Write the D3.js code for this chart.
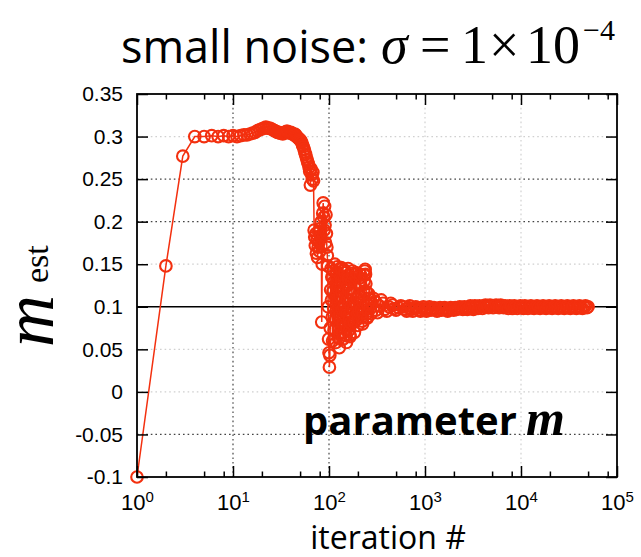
<!DOCTYPE html>
<html>
<head>
<meta charset="utf-8">
<script src="https://cdn.jsdelivr.net/npm/d3@7/dist/d3.min.js"></script>
<style>
  html, body { margin: 0; padding: 0; background: #fff; }
  svg { display: block; }
</style>
</head>
<body>
<svg id="chart" width="641" height="557"></svg>
<script>
// Estimated parameter m versus iteration number (log axis)
const iterations = [
  1,2,3,4,5,6,7,8,9,10,11,12,13,14,15,16,17,18,19,20,
  21,22,23,24,25,26,27,28,29,30,31,32,33,34,35,36,37,38,39,40,
  41,42,43,44,45,46,47,48,49,50,51,52,53,54,55,56,57,58,59,60,
  61,62,63,64,65,66,67,68,69,70,71,72,73,74,75,76,77,78,79,80,
  81,82,83,84,85,86,87,88,89,90,91,92,93,94,95,96,97,98,99,100,
  101,102,103,104,105,106,107,108,109,110,111,112,113,114,115,116,117,118,119,
  120,121,122,123,124,125,126,127,128,129,130,131,132,133,134,135,136,137,138,139,
  140,141,142,143,144,145,146,147,148,149,150,151,152,153,154,155,156,157,158,159,
  160,161,162,163,164,165,166,167,168,169,170,
  172,174,176,178,180,182,184,186,188,190,192,194,196,198,200,202,204,206,208,210,
  212,214,216,218,220,222,224,226,228,230,232,234,236,238,240,242,244,246,248,250,
  252,254,256,258,260,
  265,270,275,280,290,300,310,320,335,350,365,380,
  400,420,440,460,480,500,530,560,
  600,622,645,669,694,720,746,774,802,832,863,895,928,962,998,
  1035,1073,1113,1154,1197,1241,1287,1335,1384,1435,1488,1543,1600,1660,1721,
  1785,1851,1919,1990,2064,2140,2219,2301,2386,2475,2566,2661,2760,2862,2968,
  3078,3191,3309,3432,3559,3690,3827,3968,4115,4268,4425,4589,4759,4935,5118,
  5307,5503,5707,5918,6137,6364,6600,6844,7097,7360,7632,7915,8208,8511,8826,
  9153,9492,9843,10207,10585,10977,11383,11804,12241,12694,13163,13650,14155,14679,15222,
  15786,16370,16975,17603,18255,18930,19631,20357,21110,21891,22701,23541,24412,25316,26252,
  27224,28231,29276,30359,31482,32647,33855,35108,36407,37754,39151,40599,42101,43659,45275,
  46950,48687,50000
];

const mEst = [
  -0.100,0.148,0.277,0.300,0.300,0.301,0.300,0.301,0.300,0.301,0.300,0.301,0.302,0.302,0.303,0.304,0.305,0.307,0.308,0.309,
  0.310,0.311,0.310,0.310,0.309,0.308,0.307,0.306,0.305,0.305,0.304,0.304,0.303,0.304,0.305,0.306,0.306,0.305,0.304,0.305,
  0.304,0.303,0.302,0.303,0.302,0.300,0.299,0.298,0.297,0.296,0.295,0.293,0.290,0.288,0.285,0.282,0.279,0.276,0.273,0.270,
  0.268,0.264,0.259,0.243,0.262,0.255,0.250,0.258,0.248,0.190,0.182,0.172,0.186,0.163,0.178,0.158,0.170,0.188,0.176,0.165,
  0.192,0.184,0.200,0.082,0.150,0.210,0.222,0.205,0.190,0.218,0.196,0.175,0.208,0.186,0.170,0.160,0.148,0.100,0.062,0.046,
  0.029,0.043,0.075,0.120,0.145,0.108,0.135,0.088,0.060,0.118,0.142,0.098,0.072,0.130,0.150,0.112,0.085,0.058,0.095,
  0.128,0.141,0.147,0.122,0.105,0.088,0.075,0.063,0.052,0.068,0.090,0.112,0.135,0.144,0.146,0.131,0.118,0.097,0.080,0.070,
  0.062,0.079,0.100,0.121,0.132,0.143,0.140,0.126,0.110,0.093,0.078,0.066,0.058,0.074,0.092,0.109,0.125,0.137,0.145,0.133,
  0.120,0.104,0.091,0.085,0.073,0.067,0.065,0.081,0.094,0.100,0.116,
  0.130,0.139,0.142,0.115,0.097,0.082,0.070,0.088,0.105,0.135,0.139,0.140,0.110,0.092,0.078,0.086,0.095,0.112,0.128,0.134,
  0.138,0.126,0.112,0.097,0.088,0.083,0.080,0.092,0.105,0.118,0.130,0.137,0.142,0.144,0.138,0.127,0.118,0.104,0.092,0.088,
  0.087,0.095,0.102,0.110,0.115,
  0.110,0.098,0.092,0.104,0.110,0.106,0.096,0.093,0.101,0.108,0.104,0.097,
  0.095,0.100,0.104,0.102,0.098,0.096,0.099,0.101,
  0.100,0.097,0.095,0.099,0.101,0.097,0.095,0.098,0.100,0.099,0.096,0.095,0.098,0.100,0.097,
  0.095,0.098,0.100,0.096,0.097,0.099,0.097,0.095,0.098,0.099,0.096,0.097,0.099,0.097,0.095,
  0.097,0.099,0.097,0.096,0.099,0.097,0.098,0.100,0.098,0.097,0.100,0.099,0.097,0.099,0.101,
  0.099,0.097,0.101,0.100,0.098,0.101,0.100,0.098,0.101,0.102,0.100,0.099,0.102,0.101,0.099,
  0.101,0.102,0.100,0.099,0.102,0.101,0.099,0.101,0.100,0.098,0.101,0.100,0.098,0.101,0.100,
  0.098,0.100,0.101,0.099,0.098,0.101,0.100,0.098,0.100,0.101,0.099,0.098,0.100,0.101,0.099,
  0.098,0.100,0.101,0.099,0.098,0.100,0.101,0.099,0.098,0.100,0.101,0.099,0.098,0.100,0.101,
  0.099,0.098,0.100,0.101,0.099,0.098,0.100,0.101,0.099,0.098,0.100,0.101,0.099,0.098,0.100,
  0.101,0.099,0.100
];

const trueM = 0.1;

const xMajorTicks = [1, 10, 100, 1000, 10000, 100000];
const xExponents = ["0", "1", "2", "3", "4", "5"];
const xMinorMantissas = [2, 5, 8];
const yTicks = [-0.1, -0.05, 0, 0.05, 0.1, 0.15, 0.2, 0.25, 0.3, 0.35];
const yTickLabels = ["-0.1", "-0.05", "0", "0.05", "0.1", "0.15", "0.2", "0.25", "0.3", "0.35"];
const xGridDark = [10, 100];
const xGridLight = [1000, 10000];
const yGridDark = [0.25, 0.2, -0.05];
const yGridLight = [0.3, 0.15, 0.05, 0];

const margin = { left: 137, right: 24, top: 94, bottom: 80 };
const W = 641, H = 557;
const plotW = W - margin.left - margin.right;
const plotH = H - margin.top - margin.bottom;
const red = "#f3300f";
const serif = "'Liberation Serif', 'Times New Roman', serif";

const svg = d3.select("#chart");
const g = svg.append("g").attr("transform", `translate(${margin.left},${margin.top})`);

const x = d3.scaleLog().domain([1, 1e5]).range([0, plotW]);
const y = d3.scaleLinear().domain([-0.1, 0.35]).range([plotH, 0]);

// grid lines
const grid = g.append("g").attr("class", "grid");
function vGrid(vals, color) {
  grid.selectAll(null).data(vals).enter().append("line")
    .attr("x1", d => x(d)).attr("x2", d => x(d))
    .attr("y1", 0).attr("y2", plotH)
    .attr("stroke", color).attr("stroke-width", 1.3)
    .attr("stroke-dasharray", "1.6,3");
}
function hGrid(vals, color) {
  grid.selectAll(null).data(vals).enter().append("line")
    .attr("x1", 0).attr("x2", plotW)
    .attr("y1", d => y(d)).attr("y2", d => y(d))
    .attr("stroke", color).attr("stroke-width", 1.3)
    .attr("stroke-dasharray", "1.6,3");
}
vGrid(xGridDark, "#555");
vGrid(xGridLight, "#d4d4d4");
hGrid(yGridDark, "#444");
hGrid(yGridLight, "#d0d0d0");

// reference line at the true value
g.append("line")
  .attr("x1", 0).attr("x2", plotW)
  .attr("y1", y(trueM)).attr("y2", y(trueM))
  .attr("stroke", "#000").attr("stroke-width", 1.6);

// series
const pts = iterations.map((n, i) => ({ n, v: mEst[i] }));
g.append("path")
  .datum(pts)
  .attr("fill", "none")
  .attr("stroke", red)
  .attr("stroke-width", 1.5)
  .attr("d", d3.line().x(d => x(d.n)).y(d => y(d.v)));

g.append("g").selectAll("circle").data(pts).enter().append("circle")
  .attr("cx", d => x(d.n)).attr("cy", d => y(d.v)).attr("r", 5.8)
  .attr("fill", "none").attr("stroke", red).attr("stroke-width", 2.1);

// axes with inward ticks
const minorTicks = [];
xMajorTicks.slice(0, -1).forEach(t => xMinorMantissas.forEach(m => minorTicks.push(t * m)));

const axisStyle = sel => {
  sel.select(".domain").remove();
  sel.selectAll(".tick line").attr("stroke", "#000").attr("stroke-width", 1.5);
};

const bottom = g.append("g").attr("transform", `translate(0,${plotH})`)
  .call(d3.axisBottom(x).tickValues(xMajorTicks).tickSize(-11).tickPadding(20).tickFormat(() => ""))
  .call(axisStyle);
bottom.selectAll(".tick text").each(function (d, i) {
  const t = d3.select(this)
    .attr("fill", "#000")
    .style("font-family", "'Liberation Sans', Arial, sans-serif")
    .style("font-size", "22px")
    .attr("text-anchor", "middle")
    .attr("dy", "0.6em");
  t.append("tspan").text("10");
  t.append("tspan").attr("dy", "-0.55em").style("font-size", "15px").text(xExponents[i]);
});
g.append("g").attr("transform", `translate(0,${plotH})`)
  .call(d3.axisBottom(x).tickValues(minorTicks).tickSize(-5.5).tickFormat(() => ""))
  .call(axisStyle);

g.append("g")
  .call(d3.axisTop(x).tickValues(xMajorTicks).tickSize(-11).tickFormat(() => ""))
  .call(axisStyle);
g.append("g")
  .call(d3.axisTop(x).tickValues(minorTicks).tickSize(-5.5).tickFormat(() => ""))
  .call(axisStyle);

const left = g.append("g")
  .call(d3.axisLeft(y).tickValues(yTicks).tickSize(-11).tickPadding(14)
    .tickFormat((d, i) => yTickLabels[i]))
  .call(axisStyle);
left.selectAll(".tick text")
  .attr("fill", "#000")
  .style("font-family", "'Liberation Sans', Arial, sans-serif")
  .style("font-size", "21px");

g.append("g").attr("transform", `translate(${plotW},0)`)
  .call(d3.axisRight(y).tickValues(yTicks).tickSize(-11).tickFormat(() => ""))
  .call(axisStyle);

// frame
g.append("rect").attr("x", 0).attr("y", 0).attr("width", plotW).attr("height", plotH)
  .attr("fill", "none").attr("stroke", "#000").attr("stroke-width", 1.8);

// in-plot label
const lab = g.append("text")
  .attr("x", 166).attr("y", 341)
  .style("font-family", "'Open Sans', sans-serif")
  .style("font-size", "40px").style("font-weight", "bold").attr("fill", "#000");
lab.append("tspan").text("parameter");
lab.append("tspan").attr("dx", "9").style("font-family", serif)
  .style("font-style", "italic").style("font-size", "50px").text("m");

// x axis title
svg.append("text")
  .attr("x", 388).attr("y", 549).attr("text-anchor", "middle")
  .style("font-family", "'Open Sans', sans-serif").style("font-size", "32px")
  .attr("fill", "#000").text("iteration #");

// y axis title
const yl = svg.append("text")
  .attr("transform", "translate(53,347) rotate(-90)")
  .attr("fill", "#000").style("font-family", serif);
yl.append("tspan").style("font-style", "italic").style("font-size", "72px").text("m");
yl.append("tspan").attr("dx", "12").attr("dy", "-5").style("font-size", "34px").text("est");

// title
const title = svg.append("text").attr("y", 63).attr("fill", "#000");
title.append("tspan").attr("x", 121).style("font-family", "'Open Sans', sans-serif").style("font-size", "45px")
  .text("small noise:");
title.append("tspan").attr("x", 381).style("font-family", serif).style("font-style", "italic")
  .style("font-size", "54px").text("σ");
title.append("tspan").attr("x", 420).style("font-family", serif)
  .style("font-size", "54px").text("=");
title.append("tspan").attr("x", 461).style("font-family", serif)
  .style("font-size", "54px").text("1");
title.append("tspan").attr("x", 489).style("font-family", serif)
  .style("font-size", "54px").text("×");
title.append("tspan").attr("x", 526).style("font-family", serif)
  .style("font-size", "54px").text("10");
title.append("tspan").attr("x", 583).attr("dy", "-23").style("font-family", serif)
  .style("font-size", "30px").text("−4");
</script>
</body>
</html>
